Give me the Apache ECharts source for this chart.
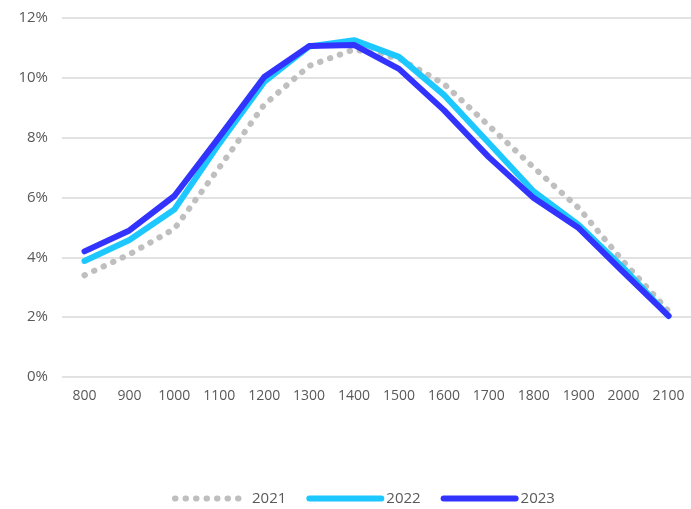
<!DOCTYPE html>
<html>
<head>
<meta charset="utf-8">
<script src="https://cdn.jsdelivr.net/npm/echarts@6/dist/echarts.min.js"></script>
<style>
  html, body { margin: 0; padding: 0; background: #fff; }
  #chart { width: 691px; height: 509px; }
</style>
</head>
<body>
<div id="chart"></div>
<script>
// Categories along the x axis
const categories = ['800', '900', '1000', '1100', '1200', '1300', '1400', '1500', '1600', '1700', '1800', '1900', '2000', '2100'];

// Share (%) per category, one array per year
const values2021 = [3.4, 4.1, 4.95, 7.0, 9.1, 10.4, 10.95, 10.65, 9.8, 8.4, 7.0, 5.65, 3.85, 2.2];
const values2022 = [3.88, 4.58, 5.6, 7.8, 9.86, 11.05, 11.26, 10.7, 9.43, 7.82, 6.2, 5.08, 3.64, 2.04];
const values2023 = [4.2, 4.9, 6.05, 8.02, 10.03, 11.06, 11.1, 10.3, 8.92, 7.35, 5.98, 4.98, 3.5, 2.04];

const seriesNames = ['2021', '2022', '2023'];

const chart = echarts.init(document.getElementById('chart'));
const font = '"Open Sans", "Noto Sans", sans-serif';

chart.setOption({
  animation: false,
  grid: { left: 62, right: -8, top: 18, bottom: 132 },
  legend: {
    bottom: -2,
    left: 167,
    itemWidth: 72,
    itemHeight: 14,
    itemGap: 20,
    textStyle: { color: '#595959', fontSize: 15, fontFamily: font },
    lineStyle: { width: 6 },
    itemStyle: { opacity: 0 },
    data: seriesNames
  },
  xAxis: {
    type: 'category',
    data: categories,
    boundaryGap: true,
    axisLine: { show: false },
    axisTick: { show: false },
    axisLabel: { color: '#595959', fontSize: 14, fontFamily: font, margin: 12 }
  },
  yAxis: {
    type: 'value',
    min: 0,
    max: 12,
    interval: 2,
    axisLine: { show: false },
    axisTick: { show: false },
    axisLabel: { color: '#595959', fontSize: 15, fontFamily: font, margin: 14, formatter: '{value}%' },
    splitLine: { lineStyle: { color: '#D9D9D9', width: 1.5 } }
  },
  series: [
    {
      name: seriesNames[0],
      type: 'line',
      data: values2021,
      symbol: 'none',
      color: '#BFBFBF',
      lineStyle: { color: '#BFBFBF', width: 6, type: [0.5, 10], cap: 'round' }
    },
    {
      name: seriesNames[1],
      type: 'line',
      data: values2022,
      symbol: 'none',
      color: '#1CC8FF',
      lineStyle: { color: '#1CC8FF', width: 6, cap: 'round', join: 'round' }
    },
    {
      name: seriesNames[2],
      type: 'line',
      data: values2023,
      symbol: 'none',
      color: '#3333FF',
      lineStyle: { color: '#3333FF', width: 6, cap: 'round', join: 'round' }
    }
  ]
});
</script>
</body>
</html>
